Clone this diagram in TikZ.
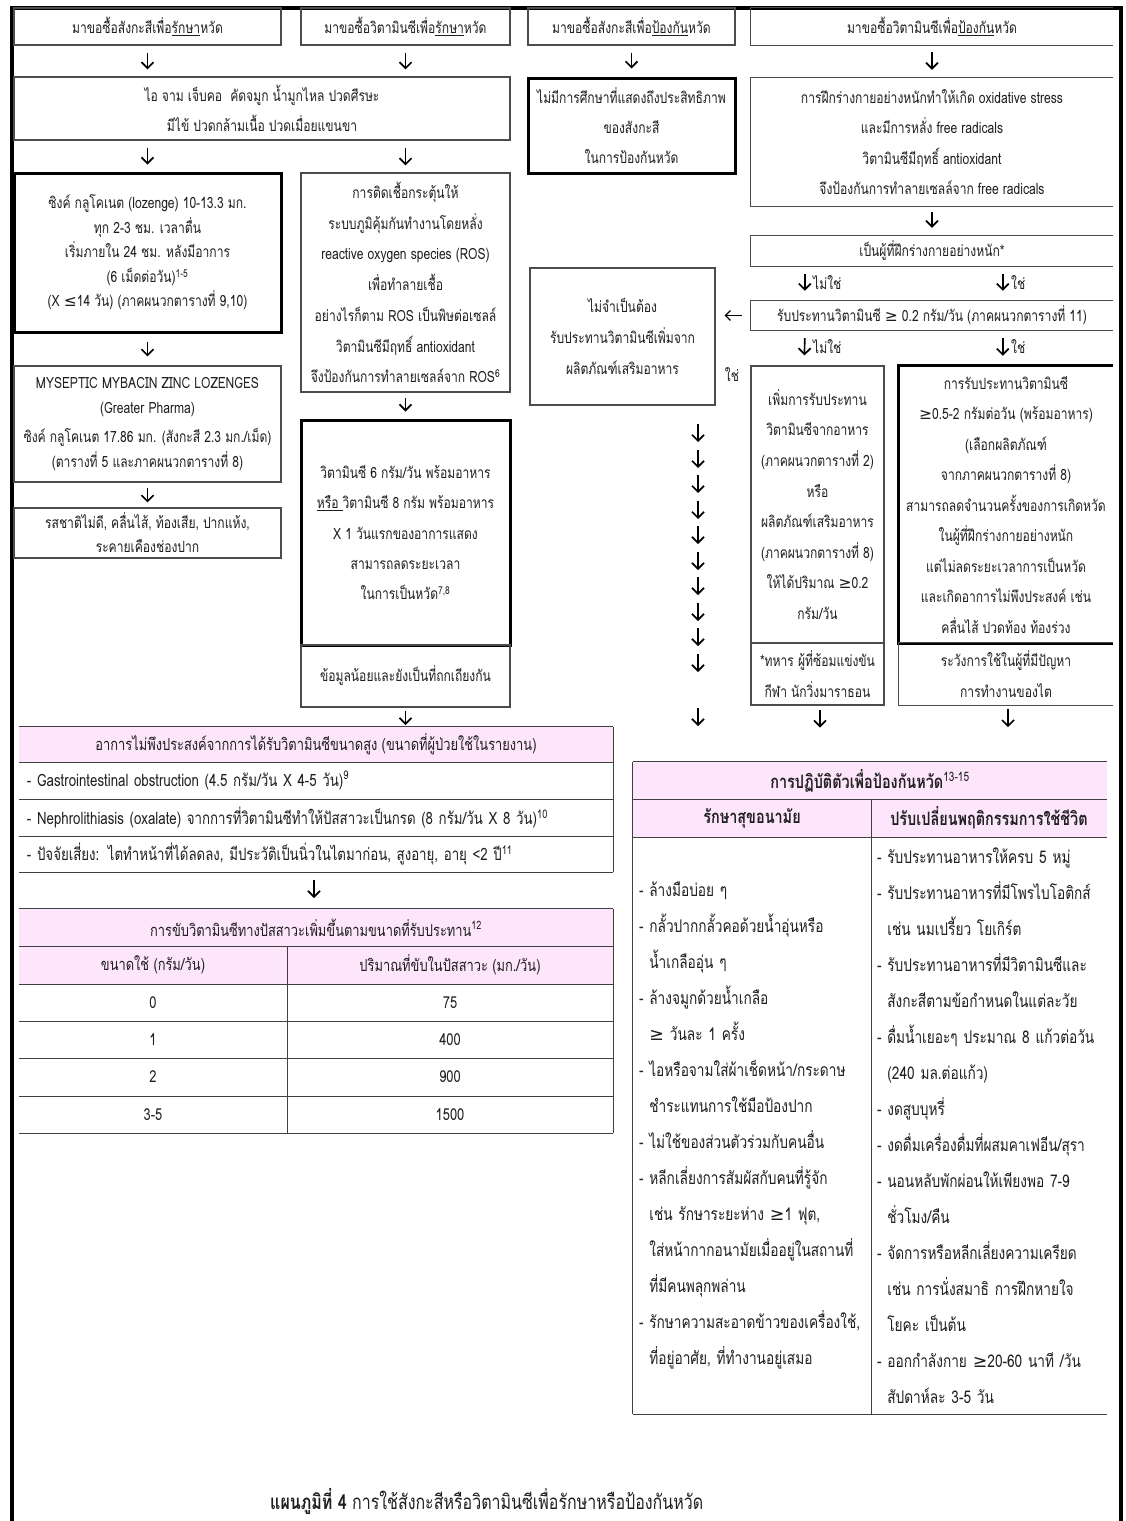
\documentclass[tikz,border=0pt]{standalone}
\usepackage{fontspec}
\usetikzlibrary{arrows.meta}
\setmainfont[Script=Thai]{Loma}
\newfontfamily\thai[Script=Thai,FakeStretch=0.78]{Loma}
\newfontfamily\dejavu{DejaVu Sans}
\newcommand\gesym{{\dejavu ≥}}
\newcommand\lesym{{\dejavu ≤}}
\newcommand\fs[2]{\fontsize{#1}{#2}\selectfont}
\newcommand\openr[2][obline]{\draw[#1] (#2.north east) -- (#2.north west) -- (#2.south west) -- (#2.south east);}
\definecolor{pinkh}{RGB}{253,230,251}
\begin{document}
\begin{tikzpicture}[x=1pt,y=-1pt,
  base/.style={inner sep=0pt, align=center, text=black!88, font=\thai\fs{15.5}{30}},
  bx/.style={base, draw=black!70, line width=1.2pt},
  tbx/.style={base, draw=black, line width=3pt},
  ob/.style={base, draw=none},
  obline/.style={draw=black!70, line width=1.2pt},
  tobline/.style={draw=black, line width=3pt},
  arr/.style={-{Straight Barb[length=6pt,width=12pt]}, line width=1.7pt, black},
  lbl/.style={inner sep=0pt, font=\thai\fs{15.5}{16}, text=black!88},
  rule/.style={draw=black!75, line width=1.2pt},
  cell/.style={inner sep=0pt, align=center, text=black!88, font=\thai\fs{16.5}{18}},
]
\useasboundingbox (0,0) rectangle (1125,1521);
\fill[white] (0,0) rectangle (1125,1521);
% frame
\draw[line width=4pt] (12,1521) -- (12,8) -- (1121,8) -- (1121,1521);

% headers
\node[bx, minimum width=267, minimum height=37, font=\thai\fs{15.5}{16}] (h1) at (147.5,26.5) {มาขอซื้อสังกะสีเพื่อ\underline{รักษา}หวัด};
\node[bx, minimum width=209, minimum height=37, font=\thai\fs{15.5}{16}] (h2) at (405.5,26.5) {มาขอซื้อวิตามินซีเพื่อ\underline{รักษา}หวัด};
\node[bx, minimum width=207, minimum height=37, font=\thai\fs{15.5}{16}] (h3) at (631.5,26.5) {มาขอซื้อสังกะสีเพื่อ\underline{ป้องกัน}หวัด};
\node[ob, minimum width=362, minimum height=37, font=\thai\fs{15.5}{16}] (h4) at (932,26.5) {มาขอซื้อวิตามินซีเพื่อ\underline{ป้องกัน}หวัด};
\openr{h4}

% row 2
\node[bx, minimum width=496, minimum height=63] (sym) at (262,108.5) {ไอ จาม เจ็บคอ\ \ คัดจมูก น้ำมูกไหล ปวดศีรษะ\\มีไข้ ปวดกล้ามเนื้อ ปวดเมื่อยแขนขา};
\node[tbx, minimum width=207, minimum height=95] (nostudy) at (631.5,125.5) {ไม่มีการศึกษาที่แสดงถึงประสิทธิภาพ\\ของสังกะสี\\ในการป้องกันหวัด};
\node[ob, minimum width=362, minimum height=128, font=\thai\fs{15.5}{30.3}] (oxid) at (932,142) {การฝึกร่างกายอย่างหนักทำให้เกิด oxidative stress\\และมีการหลั่ง free radicals\\วิตามินซีมีฤทธิ์ antioxidant\\จึงป้องกันการทำลายเซลล์จาก free radicals};
\openr{oxid}

% left column
\node[tbx, minimum width=267, minimum height=159, font=\thai\fs{15.5}{24.5}] (zinc) at (147.5,252.5) {ซิงค์ กลูโคเนต (lozenge) 10-13.3 มก.\\ทุก 2-3 ชม. เวลาตื่น\\เริ่มภายใน 24 ชม. หลังมีอาการ\\(6 เม็ดต่อวัน)\textsuperscript{1-5}\\(X \lesym14 วัน) (ภาคผนวกตารางที่ 9,10)};
\node[bx, minimum width=267, minimum height=116, font=\thai\fs{15.5}{24.5}] (mysep) at (147.5,424) {MYSEPTIC MYBACIN ZINC LOZENGES\\(Greater Pharma)\\[5pt]ซิงค์ กลูโคเนต 17.86 มก. (สังกะสี 2.3 มก./เม็ด)\\(ตารางที่ 5 และภาคผนวกตารางที่ 8)};
\node[bx, minimum width=267, minimum height=50, font=\thai\fs{15.5}{24}] (taste) at (147.5,533) {รสชาติไม่ดี, คลื่นไส้, ท้องเสีย, ปากแห้ง,\\ระคายเคืองช่องปาก};

% middle column
\node[bx, minimum width=209, minimum height=219, font=\thai\fs{15.5}{30.7}] (infect) at (405.5,282.5) {การติดเชื้อกระตุ้นให้\\ระบบภูมิคุ้มกันทำงานโดยหลั่ง\\reactive oxygen species (ROS)\\เพื่อทำลายเชื้อ\\อย่างไรก็ตาม ROS เป็นพิษต่อเซลล์\\วิตามินซีมีฤทธิ์ antioxidant\\จึงป้องกันการทำลายเซลล์จาก ROS\textsuperscript{6}};
\node[tbx, minimum width=209, minimum height=225, font=\thai\fs{15.5}{30.3}] (vitc) at (405.5,532.5) {วิตามินซี 6 กรัม/วัน พร้อมอาหาร\\\underline{หรือ\ }วิตามินซี 8 กรัม พร้อมอาหาร\\X 1 วันแรกของอาการแสดง\\สามารถลดระยะเวลา\\ในการเป็นหวัด\textsuperscript{7,8}};
\node[bx, minimum width=209, minimum height=62] (few) at (405.5,676) {ข้อมูลน้อยและยังเป็นที่ถกเถียงกัน};

% right part
\node[ob, minimum width=362, minimum height=30] (heavy) at (932,251) {เป็นผู้ที่ฝึกร่างกายอย่างหนัก*};
\openr{heavy}
\node[ob, minimum width=362, minimum height=29] (intake) at (932,315.5) {รับประทานวิตามินซี \gesym{} 0.2 กรัม/วัน (ภาคผนวกตารางที่ 11)};
\openr{intake}
\node[bx, minimum width=185, minimum height=137, font=\thai\fs{15.5}{31}] (noneed) at (622.5,336.5) {ไม่จำเป็นต้อง\\รับประทานวิตามินซีเพิ่มจาก\\ผลิตภัณฑ์เสริมอาหาร};
\node[bx, minimum width=133, minimum height=277, font=\thai\fs{15.5}{30.6}] (addfood) at (817.5,504.5) {เพิ่มการรับประทาน\\วิตามินซีจากอาหาร\\(ภาคผนวกตารางที่ 2)\\หรือ\\ผลิตภัณฑ์เสริมอาหาร\\(ภาคผนวกตารางที่ 8)\\ให้ได้ปริมาณ \gesym0.2\\กรัม/วัน};
\node[bx, minimum width=133, minimum height=62, font=\thai\fs{15.5}{31}] (soldier) at (817.5,674) {*ทหาร ผู้ที่ซ้อมแข่งขัน\\กีฬา นักวิ่งมาราธอน};
\node[ob, minimum width=214, minimum height=277, font=\thai\fs{15.5}{30.5}] (highdose) at (1006,504.5) {การรับประทานวิตามินซี\\\gesym0.5-2 กรัมต่อวัน (พร้อมอาหาร)\\(เลือกผลิตภัณฑ์\\จากภาคผนวกตารางที่ 8)\\สามารถลดจำนวนครั้งของการเกิดหวัด\\ในผู้ที่ฝึกร่างกายอย่างหนัก\\แต่ไม่ลดระยะเวลาการเป็นหวัด\\และเกิดอาการไม่พึงประสงค์ เช่น\\คลื่นไส้ ปวดท้อง ท้องร่วง};
\openr[tobline]{highdose}
\node[ob, minimum width=214, minimum height=62, font=\thai\fs{15.5}{31}] (kidney) at (1006,674) {ระวังการใช้ในผู้ที่มีปัญหา\\การทำงานของไต};
\openr{kidney}

% labels
\node[lbl, anchor=west] (no1) at (813,283) {ไม่ใช่};
\node[lbl, anchor=west] (yes1) at (1011,283) {ใช่};
\node[lbl, anchor=west] (no2) at (813,347) {ไม่ใช่};
\node[lbl, anchor=west] (yes2) at (1011,347) {ใช่};
\node[lbl] (yes3) at (732,375) {ใช่};

% connectors
\draw[arr, shorten <=7pt, shorten >=7pt] (h1.south) -- (h1.south |- sym.north);
\draw[arr, shorten <=7pt, shorten >=7pt] (h2.south) -- (h2.south |- sym.north);
\draw[arr, shorten <=7pt, shorten >=8pt] (h3.south) -- (nostudy.north);
\draw[arr, shorten <=7pt, shorten >=8pt] (h4.south) -- (oxid.north);
\draw[arr, shorten <=7pt, shorten >=7pt] (sym.south -| zinc.north) -- (zinc.north);
\draw[arr, shorten <=7pt, shorten >=7pt] (sym.south -| infect.north) -- (infect.north);
\draw[arr, shorten <=8pt, shorten >=9pt] (zinc.south) -- (mysep.north);
\draw[arr, shorten <=5pt, shorten >=5pt] (mysep.south) -- (taste.north);
\draw[arr, shorten <=5pt, shorten >=7pt] (infect.south) -- (vitc.north);
\draw[arr, shorten <=6pt, shorten >=8pt] (oxid.south) -- (heavy.north);
\draw[arr, shorten <=8pt, shorten >=10pt] ([xshift=54pt]heavy.south west) -- ([xshift=54pt]intake.north west);
\draw[arr, shorten <=8pt, shorten >=10pt] ([xshift=252pt]heavy.south west) -- ([xshift=252pt]intake.north west);
\draw[arr, shorten <=8pt, shorten >=10pt] ([xshift=54pt]intake.south west) -- ([xshift=54pt]addfood.north west);
\draw[arr, shorten <=8pt, shorten >=10pt] ([xshift=252pt]intake.south west) -- ([xshift=104pt]highdose.north west);
\draw[-{Straight Barb[length=5pt,width=10pt]}, line width=1.2pt, shorten <=9pt, shorten >=9pt] (intake.west) -- (noneed.east |- intake.west);
\draw[arr, shorten <=3pt, shorten >=2pt] (few.south) -- (few.south |- 0,727);
\draw[arr] (soldier.south) ++(2.5,4) -- ++(0,18);
\draw[arr] (kidney.south) ++(2,4) -- ++(0,18);
\foreach \yy in {433,459,484,510,535,561,586,612,637,663,717}
  \draw[arr] (698,{\yy-9}) -- (698,{\yy+9});

% table 1
\node[cell, fill=pinkh, minimum width=594, minimum height=35] (t1h) at (316,744.5) {อาการไม่พึงประสงค์จากการได้รับวิตามินซีขนาดสูง (ขนาดที่ผู้ป่วยใช้ในรายงาน)};
\node[cell, align=left, text width=586, minimum height=37, font=\thai\fs{17}{18}] (t1a) at (320,780.5) {- Gastrointestinal obstruction (4.5 กรัม/วัน X 4-5 วัน)\textsuperscript{9}};
\node[cell, align=left, text width=586, minimum height=37, font=\thai\fs{17}{18}] (t1b) at (320,817.5) {- Nephrolithiasis (oxalate) จากการที่วิตามินซีทำให้ปัสสาวะเป็นกรด (8 กรัม/วัน X 8 วัน)\textsuperscript{10}};
\node[cell, align=left, text width=586, minimum height=36, font=\thai\fs{17}{18}] (t1c) at (320,854) {- ปัจจัยเสี่ยง: ไตทำหน้าที่ได้ลดลง, มีประวัติเป็นนิ่วในไตมาก่อน, สูงอายุ, อายุ <2 ปี\textsuperscript{11}};
\draw[rule] (t1h.north west) -- (t1h.north east);
\draw[rule] (t1h.south west) -- (t1h.south east);
\draw[rule] (t1h.south west |- t1a.south) -- (t1h.south east |- t1a.south);
\draw[rule] (t1h.south west |- t1b.south) -- (t1h.south east |- t1b.south);
\draw[rule] (t1h.south west |- t1c.south) -- (t1h.south east |- t1c.south);
\draw[rule] (t1h.north east) -- (t1h.north east |- t1c.south);

\draw[arr, shorten <=8pt, shorten >=11pt] (t1c.south -| 314,0) -- (314,909);

% table 2
\node[cell, fill=pinkh, minimum width=594, minimum height=37] (t2t) at (316,927.5) {การขับวิตามินซีทางปัสสาวะเพิ่มขึ้นตามขนาดที่รับประทาน\textsuperscript{12}};
\node[cell, fill=pinkh, minimum width=268, minimum height=38] (t2ha) at (153,965) {ขนาดใช้ (กรัม/วัน)};
\node[cell, fill=pinkh, minimum width=326, minimum height=38] (t2hb) at (450,965) {ปริมาณที่ขับในปัสสาวะ (มก./วัน)};
\node[cell, minimum width=268, minimum height=37] (t2r1a) at (153,1002.5) {0};
\node[cell, minimum width=326, minimum height=37] (t2r1b) at (450,1002.5) {75};
\node[cell, minimum width=268, minimum height=37] (t2r2a) at (153,1039.5) {1};
\node[cell, minimum width=326, minimum height=37] (t2r2b) at (450,1039.5) {400};
\node[cell, minimum width=268, minimum height=38] (t2r3a) at (153,1077) {2};
\node[cell, minimum width=326, minimum height=38] (t2r3b) at (450,1077) {900};
\node[cell, minimum width=268, minimum height=37] (t2r4a) at (153,1114.5) {3-5};
\node[cell, minimum width=326, minimum height=37] (t2r4b) at (450,1114.5) {1500};
\foreach \n in {t2t.north,t2t.south,t2ha.south,t2r1a.south,t2r2a.south,t2r3a.south,t2r4a.south}
  \draw[rule] (t2t.west |- \n) -- (t2t.east |- \n);
\draw[rule] (t2ha.north east) -- (t2r4a.south east);
\draw[rule] (t2t.north east) -- (t2t.east |- t2r4b.south);

% right table
\node[cell, fill=pinkh, minimum width=474, minimum height=37, font=\thai\bfseries\fs{18.5}{20}] (pt) at (870,780.5) {การปฏิบัติตัวเพื่อป้องกันหวัด\textsuperscript{\mdseries 13-15}};
\node[cell, fill=pinkh, minimum width=238, minimum height=38, font=\thai\bfseries\fs{18.5}{20}] (ph1) at (752,818) {รักษาสุขอนามัย};
\node[cell, fill=pinkh, minimum width=236, minimum height=38, font=\thai\bfseries\fs{18.5}{20}] (ph2) at (989,818) {ปรับเปลี่ยนพฤติกรรมการใช้ชีวิต};
\node[cell, align=left, text width=226, minimum height=577, font=\thai\fs{17.5}{36}] (pb1) at (752,1125.5) {- ล้างมือบ่อย ๆ\\- กลั้วปากกลั้วคอด้วยน้ำอุ่นหรือ\\\phantom{- }น้ำเกลืออุ่น ๆ\\- ล้างจมูกด้วยน้ำเกลือ\\\phantom{- }\gesym{} วันละ 1 ครั้ง\\- ไอหรือจามใส่ผ้าเช็ดหน้า/กระดาษ\\\phantom{- }ชำระแทนการใช้มือป้องปาก\\- ไม่ใช้ของส่วนตัวร่วมกับคนอื่น\\- หลีกเลี่ยงการสัมผัสกับคนที่รู้จัก\\\phantom{- }เช่น รักษาระยะห่าง \gesym1 ฟุต,\\\phantom{- }ใส่หน้ากากอนามัยเมื่ออยู่ในสถานที่\\\phantom{- }ที่มีคนพลุกพล่าน\\- รักษาความสะอาดข้าวของเครื่องใช้,\\\phantom{- }ที่อยู่อาศัย, ที่ทำงานอยู่เสมอ};
\node[cell, align=left, text width=224, minimum height=577, font=\thai\fs{17.5}{36}] (pb2) at (989,1125.5) {- รับประทานอาหารให้ครบ 5 หมู่\\- รับประทานอาหารที่มีโพรไบโอติกส์\\\phantom{- }เช่น นมเปรี้ยว โยเกิร์ต\\- รับประทานอาหารที่มีวิตามินซีและ\\\phantom{- }สังกะสีตามข้อกำหนดในแต่ละวัย\\- ดื่มน้ำเยอะๆ ประมาณ 8 แก้วต่อวัน\\\phantom{- }(240 มล.ต่อแก้ว)\\- งดสูบบุหรี่\\- งดดื่มเครื่องดื่มที่ผสมคาเฟอีน/สุรา\\- นอนหลับพักผ่อนให้เพียงพอ 7-9\\\phantom{- }ชั่วโมง/คืน\\- จัดการหรือหลีกเลี่ยงความเครียด\\\phantom{- }เช่น การนั่งสมาธิ การฝึกหายใจ\\\phantom{- }โยคะ เป็นต้น\\- ออกกำลังกาย \gesym20-60 นาที /วัน\\\phantom{- }สัปดาห์ละ 3-5 วัน};
\draw[rule] (pt.north west) -- (pt.north east);
\draw[rule] (pt.south west) -- (pt.south east);
\draw[rule] (ph1.south west) -- (ph2.south east);
\draw[rule] (pt.west |- pb1.south) -- (pt.east |- pb1.south);
\draw[rule] (pt.north west) -- (pt.west |- pb1.south);
\draw[rule] (ph1.north east) -- (ph1.east |- pb1.south);

% caption
\node[inner sep=0pt, anchor=west, text=black!88, font=\thai\fs{20.5}{22}] (cap) at (270,1501) {\textbf{แผนภูมิที่ 4} การใช้สังกะสีหรือวิตามินซีเพื่อรักษาหรือป้องกันหวัด};
\end{tikzpicture}
\end{document}
